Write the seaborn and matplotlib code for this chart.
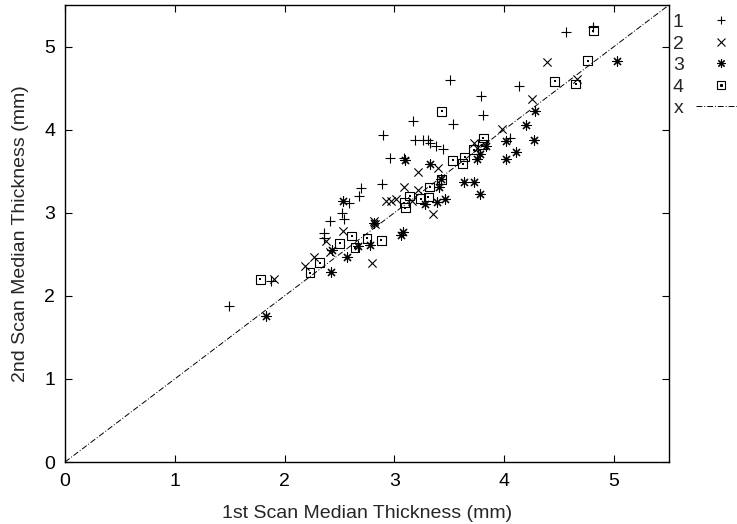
import numpy as np
import pandas as pd
import matplotlib
matplotlib.use("Agg")
import matplotlib.pyplot as plt
import seaborn as sns
from matplotlib.lines import Line2D
from matplotlib.legend_handler import HandlerTuple

# ---- data ----
s1_x = [1.49, 1.88, 2.36, 2.36, 2.41, 2.52, 2.54, 2.59, 2.68, 2.70, 2.89, 2.90, 2.96, 3.09,
        3.17, 3.19, 3.26, 3.31, 3.32, 3.38, 3.44, 3.51, 3.53, 3.79, 3.81, 4.05, 4.13, 4.56, 4.81]
s1_y = [1.88, 2.18, 2.76, 2.70, 2.90, 3.00, 2.92, 3.12, 3.20, 3.30, 3.34, 3.93, 3.66, 3.66,
        4.10, 3.87, 3.87, 3.87, 3.84, 3.80, 3.77, 4.60, 4.07, 4.41, 4.17, 3.90, 4.52, 5.18, 5.24]

s2_x = [1.90, 2.19, 2.27, 2.38, 2.41, 2.53, 2.80, 2.81, 2.82, 2.92, 2.97, 3.01, 3.09, 3.16,
        3.21, 3.21, 3.35, 3.40, 3.72, 3.75, 3.98, 4.25, 4.39, 4.66]
s2_y = [2.20, 2.36, 2.47, 2.66, 2.53, 2.78, 2.40, 2.90, 2.86, 3.14, 3.14, 3.16, 3.31, 3.14,
        3.49, 3.27, 2.99, 3.54, 3.84, 3.78, 4.01, 4.37, 4.81, 4.61]

s3_x = [1.83, 2.42, 2.43, 2.53, 2.57, 2.67, 2.78, 2.81, 3.06, 3.08, 3.10, 3.28, 3.32, 3.39,
        3.42, 3.41, 3.46, 3.63, 3.72, 3.75, 3.78, 3.78, 3.83, 4.02, 4.02, 4.11, 4.20, 4.27,
        4.28, 5.03]
s3_y = [1.76, 2.29, 2.55, 3.14, 2.47, 2.60, 2.61, 2.88, 2.73, 2.77, 3.64, 3.10, 3.59, 3.13,
        3.41, 3.31, 3.17, 3.37, 3.37, 3.65, 3.71, 3.23, 3.80, 3.86, 3.65, 3.73, 4.05, 3.87,
        4.22, 4.83]

s4_x = [1.78, 2.23, 2.32, 2.50, 2.61, 2.64, 2.75, 2.88, 3.09, 3.10, 3.14, 3.24, 3.31, 3.32,
        3.43, 3.43, 3.53, 3.62, 3.64, 3.72, 3.80, 3.81, 4.46, 4.65, 4.76, 4.81]
s4_y = [2.20, 2.28, 2.40, 2.63, 2.72, 2.58, 2.69, 2.67, 3.12, 3.06, 3.20, 3.17, 3.19, 3.31,
        4.22, 3.40, 3.63, 3.59, 3.67, 3.76, 3.82, 3.90, 4.58, 4.55, 4.83, 5.19]

diag = [0.0, 5.5]
series_labels = ["1", "2", "3", "4"]
ticks = [0, 1, 2, 3, 4, 5]
xlabel = "1st Scan Median Thickness (mm)"
ylabel = "2nd Scan Median Thickness (mm)"

# ---- style ----
sns.set_style("ticks")
plt.rcParams["font.family"] = ["Liberation Sans", "DejaVu Sans"]
FS = 14
plt.rcParams["font.size"] = FS

fig = plt.figure(figsize=(7.37, 5.24), dpi=100)
ax = fig.add_axes([0.0882, 0.1183, 0.9077 - 0.0882, 0.9905 - 0.1183])

df = pd.concat([
    pd.DataFrame({"x": s1_x, "y": s1_y, "series": "1"}),
    pd.DataFrame({"x": s2_x, "y": s2_y, "series": "2"}),
    pd.DataFrame({"x": s3_x, "y": s3_y, "series": "3"}),
    pd.DataFrame({"x": s4_x, "y": s4_y, "series": "4"}),
])

star = (8, 2, 0)
msz = 44
d1 = df[df.series == "1"]
d2 = df[df.series == "2"]
d3 = df[df.series == "3"]
d4 = df[df.series == "4"]
sns.scatterplot(data=d1, x="x", y="y", marker="+", s=msz, color="black", linewidth=0.8, ax=ax, legend=False)
sns.scatterplot(data=d2, x="x", y="y", marker="x", s=msz * 0.8, color="black", linewidth=0.8, ax=ax, legend=False)
sns.scatterplot(data=d3, x="x", y="y", marker=star, s=msz, color="black", linewidth=0.8, ax=ax, legend=False)
sns.scatterplot(data=d4, x="x", y="y", marker="s", s=msz * 0.9, facecolor="none", edgecolor="black",
                linewidth=0.8, ax=ax, legend=False)
sns.scatterplot(data=d4, x="x", y="y", marker="s", s=1.5, color="black", linewidth=0, ax=ax, legend=False)

ax.plot(diag, diag, color="black", linewidth=0.7, linestyle=(0, (6, 2, 1, 2)))

ax.set_xlim(0, 5.5)
ax.set_ylim(0, 5.5)
ax.set_xticks(ticks)
ax.set_yticks(ticks)
ax.set_xticklabels([str(t) for t in ticks])
ax.set_yticklabels([str(t) for t in ticks])
ax.tick_params(direction="in", length=5, width=0.8, top=True, right=True, labelsize=FS,
               colors="black")
ax.tick_params(axis="x", pad=8)
ax.tick_params(axis="y", pad=7)
for sp in ax.spines.values():
    sp.set_visible(True)
    sp.set_linewidth(1.0)
    sp.set_color("black")
ax.set_xlabel(xlabel, fontsize=FS, labelpad=11)
ax.set_ylabel(ylabel, fontsize=FS, labelpad=11)

# ---- legend (gnuplot-like, text first) ----
h1 = Line2D([], [], linestyle="none", marker="+", markersize=6, color="black", markeredgewidth=0.8)
h2 = Line2D([], [], linestyle="none", marker="x", markersize=5.5, color="black", markeredgewidth=0.8)
h3 = Line2D([], [], linestyle="none", marker=star, markersize=6, color="black", markeredgewidth=0.8)
h4a = Line2D([], [], linestyle="none", marker="s", markersize=6, markerfacecolor="none",
             markeredgecolor="black", markeredgewidth=0.8)
h4b = Line2D([], [], linestyle="none", marker="s", markersize=1.2, color="black")
h5 = Line2D([], [], color="black", linewidth=0.7, linestyle=(0, (6, 2, 1, 2)))
leg = ax.legend([h1, h2, h3, (h4a, h4b), h5], series_labels + ["x"],
                handler_map={tuple: HandlerTuple(ndivide=1)},
                loc="upper left", bbox_to_anchor=(1.0, 0.99), borderaxespad=0.0,
                frameon=False, markerfirst=False, fontsize=FS, labelspacing=0.2,
                handlelength=2.6, handletextpad=0.6, borderpad=0.2)

fig.savefig("out.png", dpi=100)
